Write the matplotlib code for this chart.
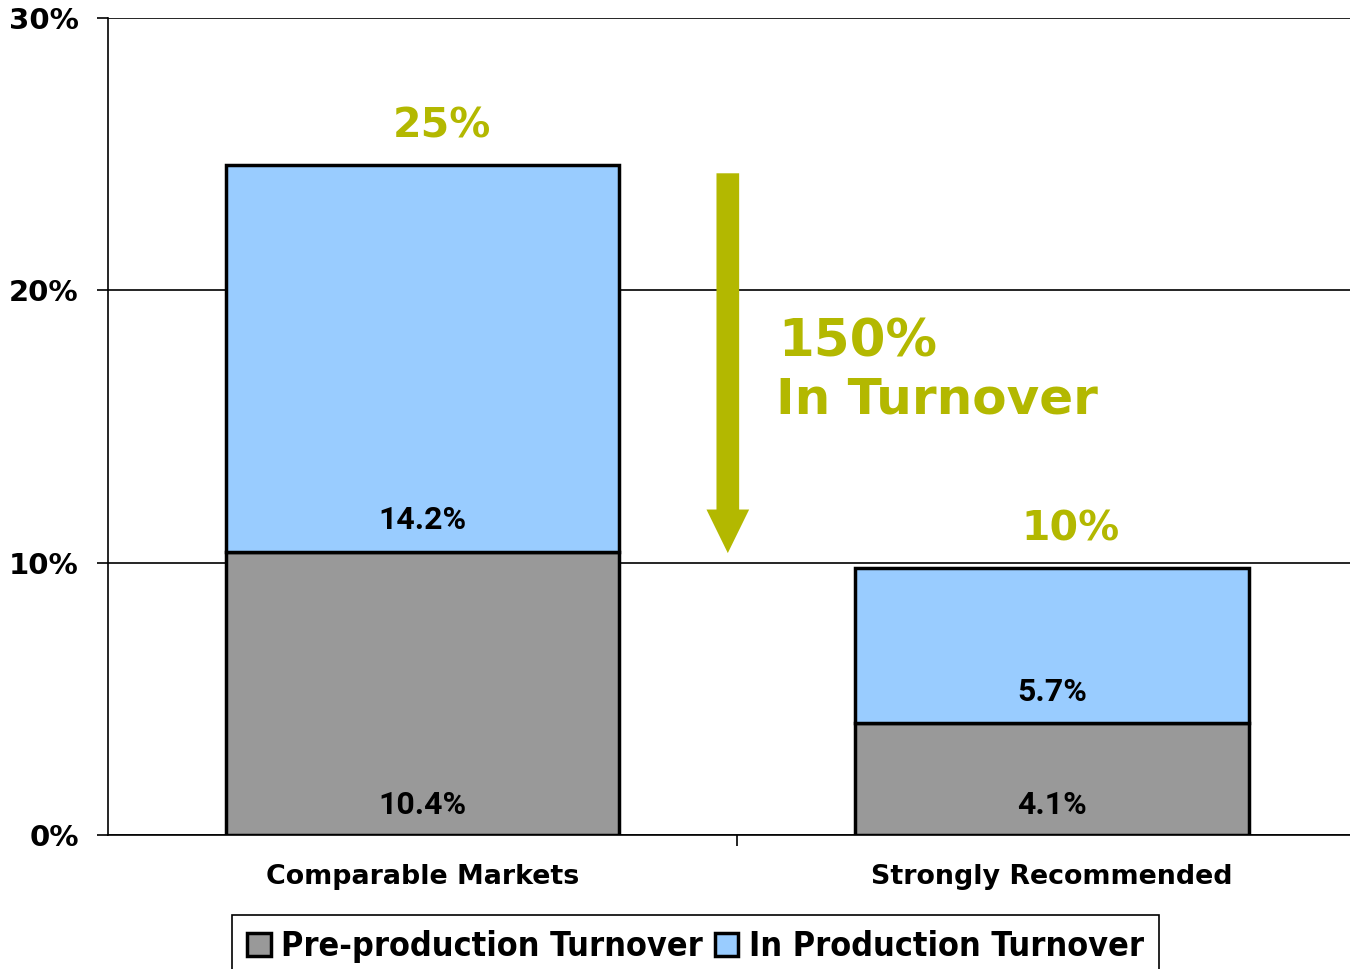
import matplotlib.pyplot as plt
import numpy as np
from matplotlib.patches import Rectangle

# data
categories = ['Comparable Markets', 'Strongly Recommended']
pre_prod = [10.4, 4.1]
in_prod = [14.2, 5.7]
total_labels = ['25%', '10%']
series_names = ['Pre-production Turnover', 'In Production Turnover']
yticks = [0, 10, 20, 30]

olive = '#B3B800'
gray = '#999999'
blue = '#99CCFF'

fig = plt.figure(figsize=(13.5, 9.69), dpi=100)
ax = fig.add_axes([108/1350, 1 - 835/969, 1 - 108/1350, (835 - 18)/969])

x = np.arange(len(categories))
w = 0.625
ax.bar(x, pre_prod, w, color=gray, edgecolor='black', linewidth=2.5, zorder=3)
ax.bar(x, in_prod, w, bottom=pre_prod, color=blue, edgecolor='black', linewidth=2.5, zorder=3)

# segment labels
lab = dict(fontsize=23, fontweight='bold', family=['Roboto', 'DejaVu Sans'])
for i in range(len(x)):
    ax.text(x[i], 1.1, f'{pre_prod[i]}%', ha='center', va='center', zorder=4, **lab)
    ax.text(x[i], pre_prod[i] + 1.15, f'{in_prod[i]}%', ha='center', va='center', zorder=4, **lab)
    ax.text(x[i] + 0.03, pre_prod[i] + in_prod[i] + 1.4, total_labels[i], ha='center',
            va='center', fontsize=29.5, fontweight='bold', color=olive, zorder=4)

# arrow
ax.annotate('', xy=(0.485, 10.25), xytext=(0.485, 24.4),
            arrowprops=dict(arrowstyle='simple,head_length=0.98,head_width=0.96,tail_width=0.51',
                            mutation_scale=32, color=olive, lw=0), zorder=4)
ax.text(0.565, 18.1, '150%', ha='left', va='center', fontsize=37,
        fontweight='bold', color=olive)
ax.text(0.562, 16.0, 'In Turnover', ha='left', va='center', fontsize=36,
        fontweight='bold', color=olive)

ax.set_xlim(-0.5, (1350 - 423) / 629)
ax.set_ylim(0, 30)
ax.set_yticks(yticks)
ax.set_yticklabels([f'{t}%' for t in yticks], fontsize=21, fontweight='bold')
ax.yaxis.grid(True, color='black', linewidth=1.2, zorder=0)
ax.set_axisbelow(True)
ax.tick_params(axis='y', length=8, width=1.2, direction='out', pad=13)
ax.set_xticks([0.5])
ax.set_xticklabels([''])
ax.tick_params(axis='x', length=8, width=1.2, direction='out')
for i, c in enumerate(categories):
    ax.text(x[i], -1.55, c, ha='center', va='center', fontsize=19.4, fontweight='bold')
for s in ['top', 'right']:
    ax.spines[s].set_visible(False)
ax.spines['left'].set_linewidth(1.2)
ax.spines['bottom'].set_linewidth(1.2)

handles = [Rectangle((0, 0), 1, 1, facecolor=gray, edgecolor='black', linewidth=2.5),
           Rectangle((0, 0), 1, 1, facecolor=blue, edgecolor='black', linewidth=2.5)]
leg = fig.legend(handles, series_names, loc='upper center', bbox_to_anchor=(0.515, 0.0557),
                 ncol=2, fancybox=False, framealpha=1, edgecolor='black', handlelength=0.7,
                 handleheight=0.7, handletextpad=0.3, columnspacing=0.35, borderpad=0.45,
                 borderaxespad=0, prop=dict(weight='bold', size=24.5, stretch='condensed'))
leg.get_frame().set_linewidth(1.2)

fig.savefig('out.png', dpi=100)
